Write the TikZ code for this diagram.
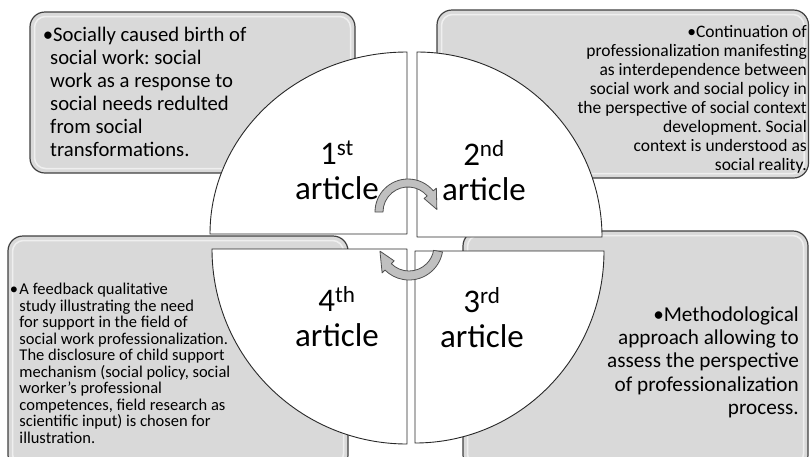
\documentclass[tikz,border=0pt]{standalone}
\usepackage{fontspec}
\setmainfont{Carlito}
\frenchspacing
\definecolor{boxfill}{RGB}{217,217,217}
\definecolor{boxline}{RGB}{64,64,64}
\definecolor{arrowfill}{RGB}{192,192,192}
\definecolor{arrowline}{RGB}{80,80,80}
\definecolor{qline}{RGB}{40,40,40}
\begin{document}
\frenchspacing
\begin{tikzpicture}[x=1pt,y=-1pt,
  infobox/.style={draw=boxline, fill=boxfill, line width=1.2pt, rounded corners=15pt},
  shine/.style={draw=white, draw opacity=0.6, line width=1.5pt, rounded corners=11pt},
  quarter/.style={draw=qline, fill=white, line width=0.9pt, line join=round},
  cyclearrow/.style={draw=arrowline, fill=arrowfill, line width=0.8pt, line join=round},
  txt/.style={inner sep=0pt, text=black},
  lbl/.style={inner sep=0pt, align=center, font=\fontsize{33}{35}\selectfont}
]
\useasboundingbox (0,0) rectangle (811,456);

% information boxes
\path[infobox] (30,12) rectangle (355,173);
\path[shine] (34.5,16.5) rectangle (350.5,168.5);
\path[infobox] (437,10) rectangle (808.5,178);
\path[shine] (441.5,14.5) rectangle (804,173.5);
\path[infobox] (8,236) rectangle (348,470);
\path[shine] (12.5,240.5) rectangle (343.5,465);
\path[infobox] (463,231) rectangle (808,470);
\path[shine] (467.5,235.5) rectangle (803.5,465);

% quarters of the circle
\path[quarter] (407,234) -- (210,234) arc[start angle=180, end angle=270, x radius=197, y radius=182] -- cycle;
\path[quarter] (417,237) -- (417,52) arc[start angle=270, end angle=360, x radius=185, y radius=185] -- cycle;
\path[quarter] (415,251) -- (604,251) arc[start angle=0, end angle=90, x radius=189, y radius=192] -- cycle;
\path[quarter] (407,249) -- (407,444) arc[start angle=90, end angle=180, x radius=195, y radius=195] -- cycle;

% cycle arrows
\begin{scope}[shift={(408,212)}]
\path[cyclearrow] (180:33) arc[start angle=180, end angle=320, radius=33] -- (320:37) -- (355:29) -- (320:21) -- (320:25) arc[start angle=320, end angle=180, radius=25] -- cycle;
\end{scope}
\begin{scope}[shift={(409,246)}]
\path[cyclearrow] (10:34) arc[start angle=10, end angle=135, radius=34] -- (135:38) -- (170:29.5) -- (135:21) -- (135:25) arc[start angle=135, end angle=10, radius=25] -- cycle;
\end{scope}

% texts of the boxes
\node[txt, anchor=north west, align=left, font=\fontsize{20.7}{22.9}\selectfont] (t1) at (50,21.7)
 {\rule{0pt}{20pt}\hspace*{3pt}\llap{•}Socially caused birth of\\social work: social\\work as a response to\\social needs redulted\\from social\\transformations.};
\node[txt, anchor=north east, align=right, font=\fontsize{17.5}{19}\selectfont] (t2) at (807,20)
 {\rule{0pt}{17pt}•Continuation of\\professionalization manifesting\\as interdependence between\\social work and social policy in\\the perspective of social context\\development. Social\\context is understood as\\social reality.};
\node[txt, anchor=north west, align=left, font=\fontsize{16.5}{16.55}\selectfont] (t4) at (19.3,278.3)
 {\rule{0pt}{16pt}\llap{•\hspace{1.5pt}}A feedback qualitative\\study illustrating the need\\for support in the field of\\social work professionalization.\\The disclosure of child support\\mechanism (social policy, social\\worker’s professional\\competences, field research as\\scientific input) is chosen for\\illustration.};
\node[txt, anchor=north east, align=right, font=\fontsize{21.2}{23.3}\selectfont] (t3) at (799,301)
 {\rule{0pt}{20pt}•Methodological\\approach allowing to\\assess the perspective\\of professionalization\\process.};

% article labels
\node[lbl, anchor=north] (a1) at (337,134) {\rule{0pt}{30pt}1\textsuperscript{st}\\article};
\node[lbl, anchor=north] (a2) at (484,135) {\rule{0pt}{30pt}2\textsuperscript{nd}\\article};
\node[lbl, anchor=north] (a3) at (482,282) {\rule{0pt}{30pt}3\textsuperscript{rd}\\article};
\node[lbl, anchor=north] (a4) at (337,281) {\rule{0pt}{30pt}4\textsuperscript{th}\\article};
\end{tikzpicture}
\end{document}
